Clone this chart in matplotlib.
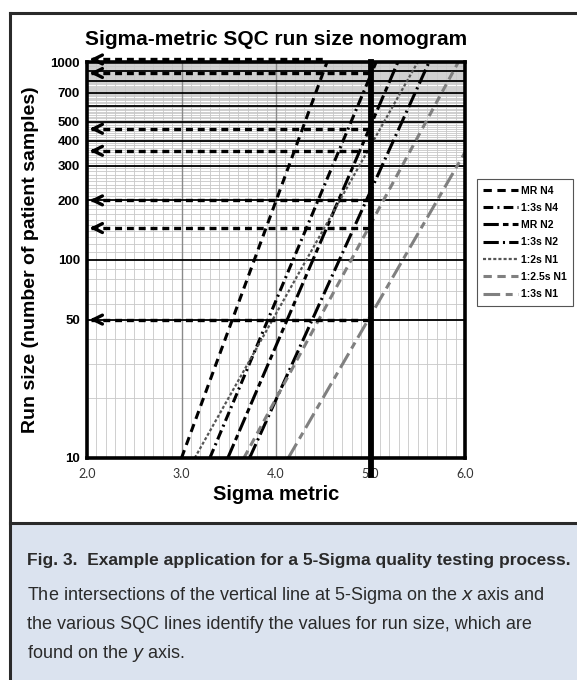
import numpy as np
import matplotlib.pyplot as plt
from matplotlib.patches import Rectangle
from matplotlib.lines import Line2D

plt.rcParams['font.family'] = ['Liberation Sans', 'DejaVu Sans']
plt.rcParams['lines.scale_dashes'] = False

# ===============================
# Data
# ===============================
rule_names = ["MR N4", "1:3s N4", "MR N2", "1:3s N2", "1:2s N1", "1:2.5s N1", "1:3s N1"]
# each SQC line: two points (sigma, run size)
line_sigma = [[3.00, 4.54], [3.30, 5.06], [3.49, 5.29], [3.72, 5.62],
              [3.14, 5.50], [3.66, 5.93], [4.13, 6.00]]
line_runs = [[10, 1000], [10, 1000], [10, 1000], [10, 1000],
             [10, 1000], [10, 1000], [10, 350]]

# arrows from the 5-sigma line back to the run size axis
arrow_runs = [1030, 880, 460, 356, 200, 145, 50]
arrow_from = [4.54, 5.0, 5.0, 5.0, 5.0, 5.0, 5.0]

ytick_vals = [10, 50, 100, 200, 300, 400, 500, 700, 1000]
xtick_vals = [2.0, 3.0, 4.0, 5.0, 6.0]
major_runs = [50, 100, 200, 300, 400, 500, 600, 700, 800, 900]
minor_runs = list(range(20, 100, 10)) + list(range(110, 1000, 10))

# styles
colors = ['black', 'black', 'black', 'black', '#555555', '#808080', '#808080']
dashes = [(6, 4), (7, 3, 1.5, 3), (11, 3, 4, 3), (11, 3, 1.5, 3),
          (2.2, 1.5), (6, 4), (12, 4, 5, 4)]
widths = [2.2, 2.2, 2.2, 2.2, 1.6, 2.2, 2.2]

# ===============================
# Figure
# ===============================
fig = plt.figure(figsize=(5.77, 6.80), dpi=100)

# caption panel and outer frame
fig.patches.append(Rectangle((0.0173, 0), 1.0, 0.231, transform=fig.transFigure,
                             facecolor='#dbe3ef', edgecolor='none', zorder=0))
fig.lines.append(Line2D([0.0173, 0.0173], [0, 0.981], transform=fig.transFigure,
                        color='#2a2a2a', lw=2.2))
fig.lines.append(Line2D([0.0173, 1.0], [0.981, 0.981], transform=fig.transFigure,
                        color='#2a2a2a', lw=2.2))
fig.lines.append(Line2D([0.0173, 1.0], [0.231, 0.231], transform=fig.transFigure,
                        color='#2a2a2a', lw=2.2))

ax = fig.add_axes([0.1508, 0.3265, 0.6551, 0.5823])
ax.set_yscale('log')
ax.set_xlim(2.0, 6.0)
ax.set_ylim(10, 1000)

# grid
for s in np.arange(2.1, 6.0, 0.1):
    ax.axvline(s, color='#cfcfcf', lw=0.7, zorder=1)
for r in minor_runs:
    ax.axhline(r, color='#c8c8c8', lw=0.6, zorder=1)
for s in [3.0, 4.0]:
    ax.axvline(s, color='#8a8a8a', lw=1.0, zorder=2)
for r in major_runs:
    ax.axhline(r, color='black', lw=1.3, zorder=2)

# SQC lines
for i, name in enumerate(rule_names):
    ax.plot(line_sigma[i], line_runs[i], color=colors[i], lw=widths[i],
            dashes=dashes[i], label=name, zorder=4, solid_capstyle='butt',
            dash_capstyle='butt')

# 5-sigma line
ax.plot([5.0, 5.0], [8.2, 1000], color='black', lw=4.2, zorder=5, clip_on=False)

# arrows
for r, s in zip(arrow_runs, arrow_from):
    ax.plot([2.04, s], [r, r], color='black', lw=2.4, dashes=(5, 3.5),
            zorder=6, clip_on=False)
    ax.annotate('', xy=(2.0, r), xytext=(2.12, r),
                arrowprops=dict(arrowstyle='->', lw=2.4, color='black',
                                mutation_scale=16),
                zorder=7, annotation_clip=False)

for sp in ax.spines.values():
    sp.set_linewidth(2.6)
    sp.set_zorder(8)

ax.set_yticks(ytick_vals)
ax.set_yticklabels([str(v) for v in ytick_vals], fontweight='bold', fontsize=9.5)
ax.yaxis.set_minor_locator(plt.NullLocator())
ax.set_xticks(xtick_vals)
ax.set_xticklabels(['%.1f' % v for v in xtick_vals], fontsize=9,
                   family=['Lato', 'DejaVu Sans'], color='#333333')
ax.tick_params(axis='y', length=0, pad=5)
ax.tick_params(axis='x', length=0, pad=7)

ax.set_xlabel('Sigma metric', fontsize=14.5, fontweight='bold', labelpad=4)
ax.set_ylabel('Run size (number of patient samples)', fontsize=14,
              fontweight='bold', labelpad=8)
ax.set_title('Sigma-metric SQC run size nomogram', fontsize=15,
             fontweight='bold', pad=12)

leg = fig.legend(loc='upper left', bbox_to_anchor=(0.818, 0.744),
                 prop=dict(weight='bold', size=7.5), handlelength=3.3,
                 handletextpad=0.3, labelspacing=0.7, borderpad=0.6,
                 fancybox=False, edgecolor='#555555', framealpha=1)
leg.get_frame().set_linewidth(0.8)

# caption
fig.text(0.047, 0.176, 'Fig. 3.  Example application for a 5-Sigma quality testing process.',
         fontsize=12.5, fontweight='bold', color='#2a2a2a', va='center')
cap_lines = ['The intersections of the vertical line at 5-Sigma on the $\\it{x}$ axis and',
             'the various SQC lines identify the values for run size, which are',
             'found on the $\\it{y}$ axis.']
for k, t in enumerate(cap_lines):
    fig.text(0.047, 0.124 - k * 0.0425, t, fontsize=13, color='#2a2a2a', va='center')

fig.savefig('out.png', dpi=100)
